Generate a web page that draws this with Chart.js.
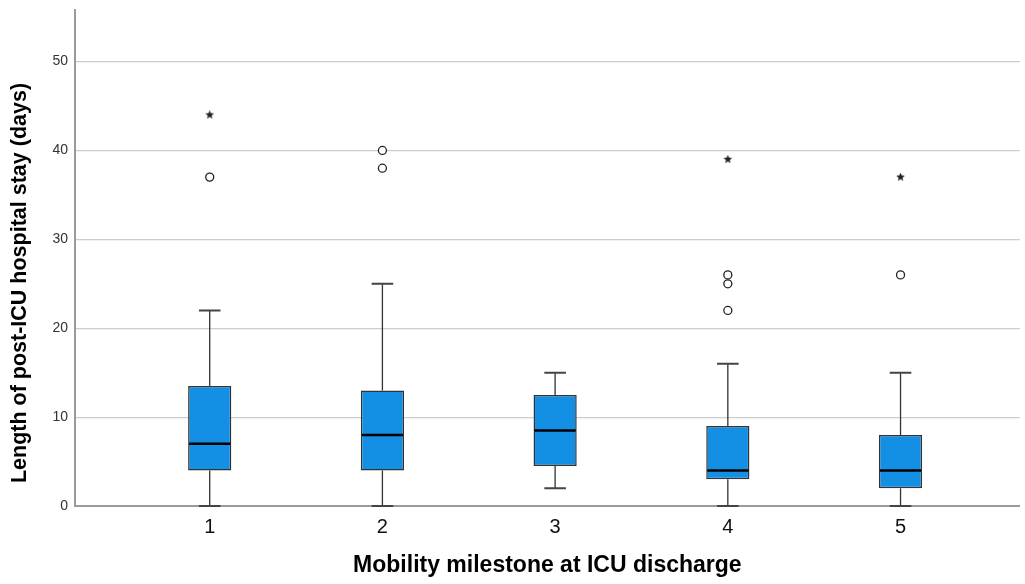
<!DOCTYPE html>
<html>
<head>
<meta charset="utf-8">
<script src="https://cdn.jsdelivr.net/npm/chart.js@4.4.1/dist/chart.umd.min.js"></script>
<style>
  html, body { margin: 0; padding: 0; background: #ffffff; }
  #wrap { width: 1025px; height: 584px; position: relative; }
</style>
</head>
<body>
<div id="wrap"><canvas id="c" width="1025" height="584"></canvas></div>
<script>
// ---- data ----
const categories   = [1, 2, 3, 4, 5];
const tickLabels   = ['1', '2', '3', '4', '5'];
const q1           = [4, 4, 4.5, 3, 2];
const median       = [7, 8, 8.5, 4, 4];
const q3           = [13.5, 13, 12.5, 9, 8];
const whiskerLow   = [0, 0, 2, 0, 0];
const whiskerHigh  = [22, 25, 15, 16, 15];
const outlierX     = [1, 2, 2, 4, 4, 4, 5];
const outlierY     = [37, 40, 38, 26, 25, 22, 26];
const extremeX     = [1, 4, 5];
const extremeY     = [44, 39, 37];
const yTicks       = [0, 10, 20, 30, 40, 50];
const xTitle = 'Mobility milestone at ICU discharge';
const yTitle = 'Length of post-ICU hospital stay (days)';

const FONT = "'Liberation Sans', Arial, Helvetica, sans-serif";

// small filled star marker for extreme values
function makeStar(size) {
  const cv = document.createElement('canvas');
  cv.width = size; cv.height = size;
  const g = cv.getContext('2d');
  const cx = size / 2, cy = size / 2, R = size / 2, r = R * 0.45;
  g.beginPath();
  for (let i = 0; i < 10; i++) {
    const rad = i % 2 === 0 ? R : r;
    const a = -Math.PI / 2 + i * Math.PI / 5;
    const px = cx + rad * Math.cos(a), py = cy + rad * Math.sin(a);
    if (i === 0) g.moveTo(px, py); else g.lineTo(px, py);
  }
  g.closePath();
  g.fillStyle = '#222';
  g.fill();
  return cv;
}
const starImg = makeStar(9);

const boxPlugin = {
  id: 'boxParts',
  beforeDatasetsDraw(chart) {
    const ctx = chart.ctx;
    const y = chart.scales.y;
    const meta = chart.getDatasetMeta(0);
    ctx.save();
    ctx.strokeStyle = '#333';
    ctx.lineWidth = 1.3;
    meta.data.forEach((bar, i) => {
      const cx = bar.x;
      const yq1 = y.getPixelForValue(q1[i]);
      const yq3 = y.getPixelForValue(q3[i]);
      const ylo = y.getPixelForValue(whiskerLow[i]);
      const yhi = y.getPixelForValue(whiskerHigh[i]);
      ctx.beginPath();
      ctx.moveTo(cx, yq3); ctx.lineTo(cx, yhi);
      ctx.moveTo(cx, yq1); ctx.lineTo(cx, ylo);
      ctx.stroke();
    });
    ctx.restore();
  },
  afterDatasetsDraw(chart) {
    const ctx = chart.ctx;
    const y = chart.scales.y;
    const meta = chart.getDatasetMeta(0);
    ctx.save();
    meta.data.forEach((bar, i) => {
      const cx = bar.x;
      const half = bar.width / 2;
      const capHalf = bar.width / 4;
      ctx.strokeStyle = '#444';
      ctx.lineWidth = 2;
      const ylo = y.getPixelForValue(whiskerLow[i]);
      const yhi = y.getPixelForValue(whiskerHigh[i]);
      ctx.beginPath();
      ctx.moveTo(cx - capHalf, yhi); ctx.lineTo(cx + capHalf, yhi);
      ctx.moveTo(cx - capHalf, ylo); ctx.lineTo(cx + capHalf, ylo);
      ctx.stroke();
      ctx.strokeStyle = '#000';
      ctx.lineWidth = 2.5;
      const ym = y.getPixelForValue(median[i]);
      ctx.beginPath();
      ctx.moveTo(cx - half + 1, ym); ctx.lineTo(cx + half - 1, ym);
      ctx.stroke();
    });
    ctx.restore();
  },
  afterDraw(chart) {
    const ctx = chart.ctx;
    const a = chart.chartArea;
    ctx.save();
    ctx.translate(20, (a.top + a.bottom) / 2 + 25);
    ctx.rotate(-Math.PI / 2);
    ctx.font = 'bold 21.5px ' + FONT;
    ctx.fillStyle = '#000';
    ctx.textAlign = 'center';
    ctx.textBaseline = 'middle';
    ctx.fillText(yTitle, 0, 0);
    ctx.restore();
  }
};

new Chart(document.getElementById('c'), {
  type: 'bar',
  data: {
    datasets: [
      {
        type: 'bar',
        label: 'box',
        data: categories.map((c, i) => ({ x: c, y: [q1[i], q3[i]] })),
        backgroundColor: '#1390e4',
        borderColor: '#333',
        borderWidth: 1.5,
        borderSkipped: false,
        barPercentage: 0.25,
        categoryPercentage: 1,
        order: 2
      },
      {
        type: 'scatter',
        label: 'outliers',
        data: outlierX.map((x, i) => ({ x: x, y: outlierY[i] })),
        pointStyle: 'circle',
        pointRadius: 4,
        pointBorderWidth: 1.3,
        pointBorderColor: '#222',
        pointBackgroundColor: '#fff',
        order: 1
      },
      {
        type: 'scatter',
        label: 'extremes',
        data: extremeX.map((x, i) => ({ x: x, y: extremeY[i] })),
        pointStyle: starImg,
        pointRadius: 4,
        order: 1
      }
    ]
  },
  options: {
    responsive: false,
    animation: false,
    events: [],
    layout: { padding: { top: 10, right: 2, left: 0, bottom: 0 } },
    plugins: { legend: { display: false }, tooltip: { enabled: false } },
    scales: {
      x: {
        type: 'linear',
        offset: false,
        min: 0.22,
        max: 5.69,
        afterBuildTicks(scale) { scale.ticks = categories.map(v => ({ value: v })); },
        afterFit(scale) { scale.height = 78; scale.paddingLeft = 0; scale.paddingRight = 0; },
        grid: { display: false, drawTicks: false, offset: false },
        border: { display: true, color: '#9a9a9a', width: 2 },
        ticks: {
          padding: 9,
          color: '#111',
          font: { family: FONT, size: 20 },
          callback: (v) => tickLabels[categories.indexOf(v)]
        },
        title: {
          display: true,
          text: xTitle,
          color: '#000',
          font: { family: FONT, size: 23, weight: 'bold' },
          padding: { top: 0, bottom: 5 }
        }
      },
      y: {
        type: 'linear',
        min: 0,
        max: 55.8,
        afterBuildTicks(scale) { scale.ticks = yTicks.map(v => ({ value: v })); },
        afterFit(scale) { scale.width = 75; scale.paddingTop = 0; scale.paddingBottom = 0; },
        grid: { color: '#cccccc', lineWidth: 1.2, drawTicks: false },
        border: { display: true, color: '#9a9a9a', width: 2 },
        ticks: {
          padding: 7,
          color: '#333',
          font: { family: FONT, size: 14 }
        }
      }
    }
  },
  plugins: [boxPlugin]
});
</script>
</body>
</html>
